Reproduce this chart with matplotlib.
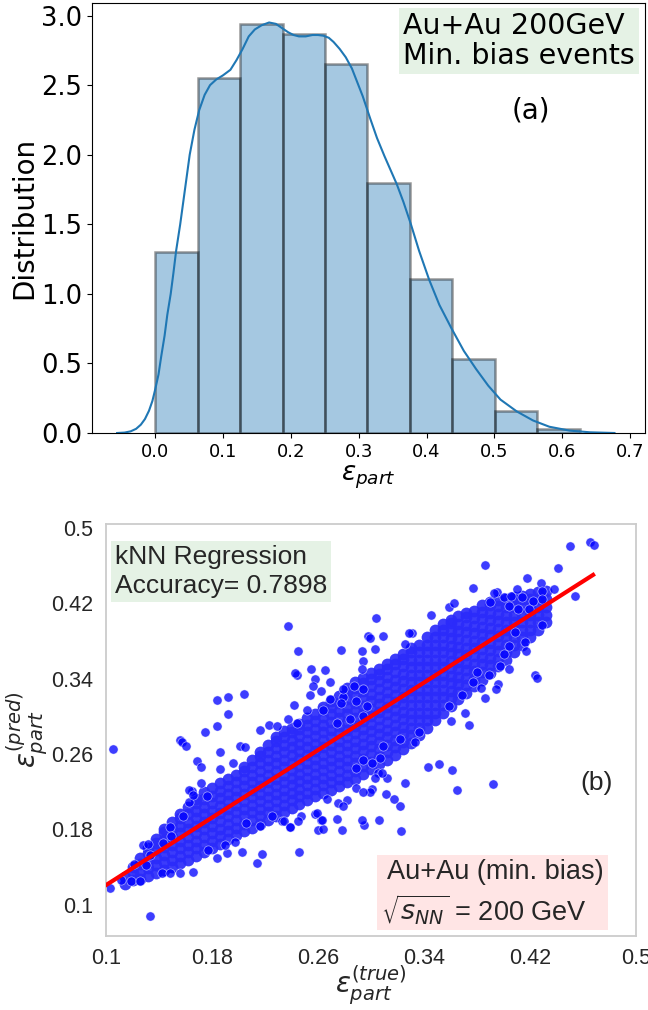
import numpy as np
import matplotlib
matplotlib.use("Agg")
import matplotlib.pyplot as plt

# ---- panel (a): eccentricity distribution ----
bin_edges = [0.0, 0.0626, 0.1252, 0.1878, 0.2504, 0.313, 0.3756, 0.4382, 0.5008, 0.5634, 0.626]
bin_heights = [1.30, 2.55, 2.94, 2.87, 2.65, 1.80, 1.11, 0.53, 0.16, 0.03]

kde_x = [-0.056, -0.045, -0.036, -0.028, -0.021, -0.015, -0.009, -0.004, 0.0, 0.005,
         0.009, 0.014, 0.018, 0.023, 0.027, 0.031, 0.037, 0.044, 0.051, 0.058,
         0.065, 0.073, 0.081, 0.090, 0.100, 0.111, 0.120, 0.129, 0.138, 0.147,
         0.157, 0.168, 0.178, 0.187, 0.196, 0.204, 0.212, 0.222, 0.232, 0.240,
         0.248, 0.256, 0.263, 0.272, 0.281, 0.290, 0.298, 0.306, 0.317, 0.327,
         0.338, 0.347, 0.356, 0.366, 0.377, 0.389, 0.404, 0.419, 0.437, 0.455,
         0.473, 0.491, 0.509, 0.533, 0.557, 0.581, 0.611, 0.641, 0.677]
kde_y = [0.0, 0.003, 0.012, 0.03, 0.06, 0.10, 0.16, 0.23, 0.31, 0.42,
         0.55, 0.70, 0.85, 1.00, 1.15, 1.31, 1.50, 1.75, 2.00, 2.18,
         2.32, 2.43, 2.50, 2.54, 2.57, 2.61, 2.68, 2.76, 2.85, 2.90,
         2.93, 2.95, 2.94, 2.91, 2.88, 2.86, 2.85, 2.85, 2.86, 2.86,
         2.855, 2.84, 2.81, 2.76, 2.70, 2.62, 2.52, 2.42, 2.26, 2.12,
         1.99, 1.89, 1.79, 1.66, 1.50, 1.31, 1.10, 0.92, 0.75, 0.59,
         0.46, 0.34, 0.24, 0.155, 0.09, 0.045, 0.017, 0.005, 0.0]

# ---- panel (b): kNN prediction vs truth ----
# dense core of the cloud, one list of y values per x column
core_cols = [0.114, 0.120, 0.126, 0.132, 0.138, 0.144, 0.150, 0.156, 0.162, 0.168,
             0.174, 0.180, 0.186, 0.192, 0.198, 0.204, 0.210, 0.216, 0.222, 0.228,
             0.234, 0.240, 0.246, 0.252, 0.258, 0.264, 0.270, 0.276, 0.282, 0.288,
             0.294, 0.300, 0.306, 0.312, 0.318, 0.324, 0.330, 0.336, 0.342, 0.348,
             0.354, 0.360, 0.366, 0.372, 0.378, 0.384, 0.390, 0.396, 0.402, 0.408,
             0.414, 0.420, 0.426, 0.432]
core_vals = [
    [0.122, 0.130],
    [0.126, 0.134, 0.140],
    [0.127, 0.135, 0.143, 0.150],
    [0.131, 0.139, 0.147, 0.155, 0.160],
    [0.134, 0.142, 0.150, 0.158, 0.166, 0.170],
    [0.137, 0.145, 0.153, 0.161, 0.169, 0.177, 0.180],
    [0.140, 0.148, 0.156, 0.164, 0.172, 0.180, 0.188],
    [0.144, 0.152, 0.160, 0.168, 0.176, 0.184, 0.192, 0.196],
    [0.148, 0.156, 0.164, 0.172, 0.180, 0.188, 0.196, 0.204],
    [0.152, 0.160, 0.168, 0.176, 0.184, 0.192, 0.200, 0.208, 0.212],
    [0.156, 0.164, 0.172, 0.180, 0.188, 0.196, 0.204, 0.212, 0.220],
    [0.160, 0.168, 0.176, 0.184, 0.192, 0.200, 0.208, 0.216, 0.224],
    [0.165, 0.173, 0.181, 0.189, 0.197, 0.205, 0.213, 0.221, 0.229],
    [0.170, 0.178, 0.186, 0.194, 0.202, 0.210, 0.218, 0.226, 0.234],
    [0.174, 0.182, 0.190, 0.198, 0.206, 0.214, 0.222, 0.230, 0.238],
    [0.178, 0.186, 0.194, 0.202, 0.210, 0.218, 0.226, 0.234, 0.242, 0.246],
    [0.182, 0.190, 0.198, 0.206, 0.214, 0.222, 0.230, 0.238, 0.246, 0.254],
    [0.186, 0.194, 0.202, 0.210, 0.218, 0.226, 0.234, 0.242, 0.250, 0.258, 0.262],
    [0.190, 0.198, 0.206, 0.214, 0.222, 0.230, 0.238, 0.246, 0.254, 0.262, 0.270],
    [0.194, 0.202, 0.210, 0.218, 0.226, 0.234, 0.242, 0.250, 0.258, 0.266, 0.274, 0.278],
    [0.198, 0.206, 0.214, 0.222, 0.230, 0.238, 0.246, 0.254, 0.262, 0.270, 0.278, 0.284],
    [0.203, 0.211, 0.219, 0.227, 0.235, 0.243, 0.251, 0.259, 0.267, 0.275, 0.283, 0.288],
    [0.207, 0.215, 0.223, 0.231, 0.239, 0.247, 0.255, 0.263, 0.271, 0.279, 0.287, 0.292],
    [0.211, 0.219, 0.227, 0.235, 0.243, 0.251, 0.259, 0.267, 0.275, 0.283, 0.291, 0.298],
    [0.215, 0.223, 0.231, 0.239, 0.247, 0.255, 0.263, 0.271, 0.279, 0.287, 0.295, 0.303],
    [0.219, 0.227, 0.235, 0.243, 0.251, 0.259, 0.267, 0.275, 0.283, 0.291, 0.299, 0.307, 0.310],
    [0.222, 0.230, 0.238, 0.246, 0.254, 0.262, 0.270, 0.278, 0.286, 0.294, 0.302, 0.310, 0.316],
    [0.226, 0.234, 0.242, 0.250, 0.258, 0.266, 0.274, 0.282, 0.290, 0.298, 0.306, 0.314, 0.322],
    [0.230, 0.238, 0.246, 0.254, 0.262, 0.270, 0.278, 0.286, 0.294, 0.302, 0.310, 0.318, 0.326, 0.330],
    [0.234, 0.242, 0.250, 0.258, 0.266, 0.274, 0.282, 0.290, 0.298, 0.306, 0.314, 0.322, 0.330, 0.336],
    [0.239, 0.247, 0.255, 0.263, 0.271, 0.279, 0.287, 0.295, 0.303, 0.311, 0.319, 0.327, 0.335, 0.341],
    [0.244, 0.252, 0.260, 0.268, 0.276, 0.284, 0.292, 0.300, 0.308, 0.316, 0.324, 0.332, 0.340, 0.346],
    [0.249, 0.257, 0.265, 0.273, 0.281, 0.289, 0.297, 0.305, 0.313, 0.321, 0.329, 0.337, 0.345, 0.350],
    [0.254, 0.262, 0.270, 0.278, 0.286, 0.294, 0.302, 0.310, 0.318, 0.326, 0.334, 0.342, 0.350, 0.356],
    [0.259, 0.267, 0.275, 0.283, 0.291, 0.299, 0.307, 0.315, 0.323, 0.331, 0.339, 0.347, 0.355, 0.361],
    [0.265, 0.273, 0.281, 0.289, 0.297, 0.305, 0.313, 0.321, 0.329, 0.337, 0.345, 0.353, 0.361, 0.366],
    [0.272, 0.280, 0.288, 0.296, 0.304, 0.312, 0.320, 0.328, 0.336, 0.344, 0.352, 0.360, 0.368, 0.372],
    [0.280, 0.288, 0.296, 0.304, 0.312, 0.320, 0.328, 0.336, 0.344, 0.352, 0.360, 0.368, 0.376],
    [0.288, 0.296, 0.304, 0.312, 0.320, 0.328, 0.336, 0.344, 0.352, 0.360, 0.368, 0.376, 0.384],
    [0.296, 0.304, 0.312, 0.320, 0.328, 0.336, 0.344, 0.352, 0.360, 0.368, 0.376, 0.384, 0.392],
    [0.304, 0.312, 0.320, 0.328, 0.336, 0.344, 0.352, 0.360, 0.368, 0.376, 0.384, 0.392, 0.398],
    [0.311, 0.319, 0.327, 0.335, 0.343, 0.351, 0.359, 0.367, 0.375, 0.383, 0.391, 0.399, 0.402],
    [0.318, 0.326, 0.334, 0.342, 0.350, 0.358, 0.366, 0.374, 0.382, 0.390, 0.398, 0.406],
    [0.325, 0.333, 0.341, 0.349, 0.357, 0.365, 0.373, 0.381, 0.389, 0.397, 0.405, 0.410],
    [0.332, 0.340, 0.348, 0.356, 0.364, 0.372, 0.380, 0.388, 0.396, 0.404, 0.412],
    [0.339, 0.347, 0.355, 0.363, 0.371, 0.379, 0.387, 0.395, 0.403, 0.411, 0.418],
    [0.346, 0.354, 0.362, 0.370, 0.378, 0.386, 0.394, 0.402, 0.410, 0.418, 0.421],
    [0.353, 0.361, 0.369, 0.377, 0.385, 0.393, 0.401, 0.409, 0.417, 0.423],
    [0.360, 0.368, 0.376, 0.384, 0.392, 0.400, 0.408, 0.416, 0.424],
    [0.368, 0.376, 0.384, 0.392, 0.400, 0.408, 0.416, 0.424, 0.427],
    [0.376, 0.384, 0.392, 0.400, 0.408, 0.416, 0.424, 0.428],
    [0.384, 0.392, 0.400, 0.408, 0.416, 0.424, 0.430],
    [0.392, 0.400, 0.408, 0.416, 0.424, 0.432],
    [0.400, 0.408, 0.416, 0.424, 0.433],
]

# scattered points around the cloud
out_x = [0.237, 0.245, 0.277, 0.298, 0.244, 0.255, 0.265, 0.258, 0.256, 0.254,
         0.262, 0.204, 0.192, 0.184, 0.192, 0.184, 0.175, 0.242, 0.237, 0.223,
         0.216, 0.294, 0.293, 0.156, 0.279, 0.269, 0.264, 0.252, 0.244, 0.229,
         0.450, 0.465, 0.468, 0.386, 0.441, 0.418, 0.428, 0.429, 0.438, 0.454,
         0.429, 0.377, 0.395, 0.359, 0.363, 0.345, 0.304, 0.309, 0.303, 0.331,
         0.326, 0.429, 0.416, 0.417, 0.404, 0.404, 0.397, 0.424, 0.425, 0.389,
         0.396, 0.394, 0.383, 0.386, 0.369, 0.359, 0.371, 0.374, 0.360, 0.409,
         0.400, 0.377, 0.380, 0.336, 0.333, 0.322, 0.343, 0.351, 0.361, 0.326,
         0.365, 0.392, 0.322, 0.317, 0.311, 0.301, 0.299, 0.306, 0.295, 0.323,
         0.312, 0.305, 0.105, 0.157, 0.160, 0.186, 0.169, 0.172, 0.196, 0.186,
         0.172, 0.165, 0.176, 0.163, 0.158, 0.148, 0.149, 0.143, 0.128, 0.132,
         0.133, 0.121, 0.130, 0.142, 0.148, 0.156, 0.166, 0.111, 0.119, 0.126,
         0.103, 0.133, 0.203, 0.214, 0.218, 0.246, 0.191, 0.184, 0.190, 0.177,
         0.233, 0.239, 0.247, 0.260, 0.264, 0.262, 0.258, 0.274, 0.278, 0.282,
         0.275, 0.267, 0.289, 0.197, 0.206, 0.216, 0.225, 0.293, 0.299, 0.329,
         0.243, 0.201, 0.205, 0.163, 0.166, 0.259, 0.279, 0.294, 0.289, 0.303,
         0.308, 0.301, 0.294, 0.307, 0.309, 0.293, 0.245, 0.234, 0.239, 0.263,
         0.393, 0.400, 0.406, 0.414, 0.422, 0.390, 0.404, 0.411, 0.419, 0.410,
         0.269, 0.279, 0.287, 0.294, 0.277, 0.289, 0.297, 0.274, 0.284, 0.294]
out_y = [0.396, 0.369, 0.370, 0.385, 0.344, 0.350, 0.349, 0.340, 0.332, 0.323,
         0.327, 0.324, 0.320, 0.317, 0.302, 0.290, 0.283, 0.312, 0.297, 0.291,
         0.286, 0.359, 0.350, 0.275, 0.321, 0.318, 0.307, 0.307, 0.293, 0.290,
         0.481, 0.485, 0.482, 0.461, 0.457, 0.447, 0.441, 0.433, 0.435, 0.428,
         0.424, 0.436, 0.432, 0.416, 0.420, 0.407, 0.404, 0.385, 0.371, 0.388,
         0.377, 0.397, 0.379, 0.369, 0.375, 0.350, 0.353, 0.344, 0.341, 0.344,
         0.334, 0.329, 0.330, 0.319, 0.323, 0.311, 0.304, 0.291, 0.295, 0.389,
         0.366, 0.336, 0.347, 0.283, 0.273, 0.276, 0.246, 0.249, 0.243, 0.229,
         0.222, 0.228, 0.205, 0.212, 0.218, 0.223, 0.220, 0.190, 0.185, 0.178,
         0.235, 0.240, 0.265, 0.273, 0.268, 0.262, 0.253, 0.246, 0.251, 0.244,
         0.229, 0.221, 0.216, 0.209, 0.194, 0.183, 0.173, 0.166, 0.164, 0.165,
         0.153, 0.143, 0.142, 0.134, 0.134, 0.134, 0.135, 0.126, 0.125, 0.125,
         0.118, 0.088, 0.156, 0.144, 0.154, 0.156, 0.155, 0.150, 0.163, 0.158,
         0.189, 0.183, 0.194, 0.179, 0.180, 0.190, 0.196, 0.191, 0.179, 0.211,
         0.208, 0.212, 0.224, 0.167, 0.187, 0.184, 0.194, 0.369, 0.383, 0.388,
         0.346, 0.268, 0.267, 0.222, 0.217, 0.197, 0.205, 0.220, 0.245, 0.235,
         0.240, 0.251, 0.254, 0.256, 0.268, 0.190, 0.189, 0.189, 0.183, 0.190,
         0.431, 0.427, 0.428, 0.427, 0.422, 0.421, 0.417, 0.414, 0.414, 0.435,
         0.336, 0.329, 0.332, 0.329, 0.314, 0.316, 0.311, 0.293, 0.297, 0.300]

# regression line end points
fit_x = [0.1, 0.4676]
fit_y = [0.121, 0.450]

x_ticks = [0.1, 0.18, 0.26, 0.34, 0.42, 0.5]
x_labels = ["0.1", "0.18", "0.26", "0.34", "0.42", "0.5"]
y_ticks = [0.1, 0.18, 0.26, 0.34, 0.42, 0.5]
y_labels = ["0.1", "0.18", "0.26", "0.34", "0.42", "0.5"]

core_x = [c for c, vals in zip(core_cols, core_vals) for _ in vals]
core_y = [v for vals in core_vals for v in vals]

fig = plt.figure(figsize=(6.48, 10.1), dpi=100)

# ---------------- top panel ----------------
ax1 = fig.add_axes([92 / 648, 1 - 433 / 1010, 553 / 648, 430 / 1010])
edges = np.array(bin_edges)
ax1.bar(edges[:-1], bin_heights, width=np.diff(edges), align="edge",
        color="C0", edgecolor="k", linewidth=1.8, alpha=0.4)
ax1.plot(kde_x, kde_y, color="C0", lw=1.5)
ax1.set_xlim(-0.093, 0.722)
ax1.set_ylim(0, 3.09)
ax1.set_xticks(np.arange(0, 0.71, 0.1))
ax1.set_yticks(np.arange(0, 3.01, 0.5))
ax1.tick_params(axis="x", labelsize=13)
ax1.tick_params(axis="y", labelsize=18.5)
ax1.set_ylabel("Distribution", fontsize=20, labelpad=2)
ax1.set_xlabel(r"$\varepsilon_{part}$", fontsize=19, labelpad=2)
ax1.text(0.562, 0.978, "Au+Au 200GeV\nMin. bias events", transform=ax1.transAxes,
         fontsize=20.5, va="top", ha="left", linespacing=1.05,
         bbox=dict(boxstyle="square,pad=0.15", facecolor="g", alpha=0.1, edgecolor="none"))
ax1.text(0.794, 0.751, "(a)", transform=ax1.transAxes, fontsize=20,
         ha="center", va="center")

# ---------------- bottom panel ----------------
sans = "Liberation Sans"
txt_col = "#262626"
ax2 = fig.add_axes([106 / 648, 1 - 936 / 1010, 530 / 648, 412 / 1010])
ax2.scatter(core_x, core_y, s=72, color=(0.17, 0.17, 0.98), alpha=0.92,
            linewidths=0, zorder=2)
ax2.scatter(out_x, out_y, s=44, color="blue", alpha=0.76,
            edgecolors="white", linewidths=0.4, zorder=2)
ax2.plot(fit_x, fit_y, color="red", lw=3, zorder=3)
ax2.set_xlim(0.1, 0.5)
ax2.set_ylim(0.067, 0.504)
ax2.set_xticks(x_ticks)
ax2.set_xticklabels(x_labels, fontfamily=sans, fontsize=15.5, color=txt_col)
ax2.set_yticks(y_ticks)
ax2.set_yticklabels(y_labels, fontfamily=sans, fontsize=15.5, color=txt_col)
ax2.tick_params(length=0, pad=9)
for sp in ax2.spines.values():
    sp.set_color("#cccccc")
    sp.set_linewidth(1.3)
ax2.set_xlabel(r"$\varepsilon_{part}^{(true)}$", fontsize=20, color=txt_col, labelpad=-4)
ax2.set_ylabel(r"$\varepsilon_{part}^{(pred)}$", fontsize=20, color=txt_col, labelpad=2)

ax2.text(0.017, 0.950, "kNN Regression\nAccuracy= 0.7898", transform=ax2.transAxes,
         fontfamily=sans, fontsize=19, color=txt_col, va="top", ha="left",
         linespacing=1.3,
         bbox=dict(boxstyle="square,pad=0.15", facecolor="g", alpha=0.1, edgecolor="none"))
ax2.text(0.926, 0.371, "(b)", transform=ax2.transAxes, fontfamily=sans,
         fontsize=19, color=txt_col, ha="center", va="center")
ax2.text(0.519, 0.025, " Au+Au (min. bias)\n$\\sqrt{s_{NN}}$ = 200 GeV",
         transform=ax2.transAxes, fontfamily=sans, fontsize=19.5, color=txt_col,
         va="bottom", ha="left", linespacing=1.25,
         bbox=dict(boxstyle="square,pad=0.15", facecolor="r", alpha=0.1, edgecolor="none"))

fig.savefig("out.png", dpi=100)
